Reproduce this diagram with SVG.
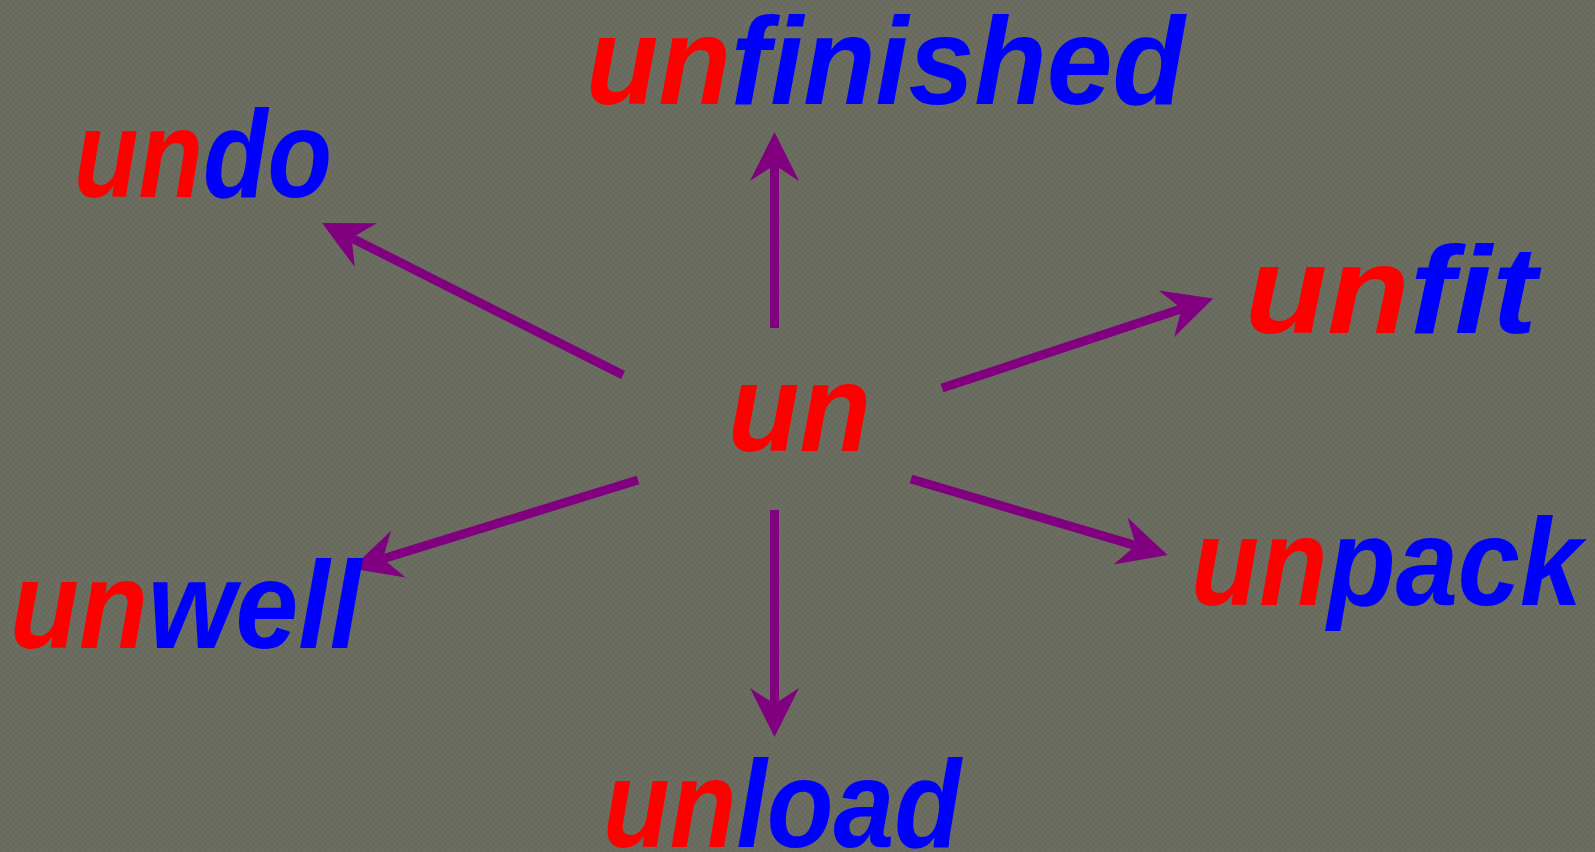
<svg xmlns="http://www.w3.org/2000/svg" width="1595" height="852" viewBox="0 0 1595 852">
  <style>
    .w { font-family: "Liberation Sans", Arial, sans-serif; font-weight: bold; font-style: italic; font-size: 124px; }
    .p { fill: #ff0000; }
    .s { fill: #0000ff; }
    .c { stroke: #800080; stroke-width: 9; fill: none; marker-end: url(#ah); }
  </style>
  <defs>
    <pattern id="bg" width="6" height="6" patternUnits="userSpaceOnUse">
      <rect width="6" height="6" fill="#676a5d"/>
      <rect x="0" y="0" width="3" height="3" fill="#6b6e61"/>
      <rect x="3" y="3" width="3" height="3" fill="#6b6e61"/>
    </pattern>
    <marker id="ah" markerUnits="userSpaceOnUse" orient="auto" refX="0" refY="0" markerWidth="60" markerHeight="60" viewBox="-20 -30 60 60" overflow="visible">
      <path d="M33,0 L-16,-24.5 L0,0 L-16,24.5 Z" fill="#800080"/>
    </marker>
  </defs>
  <rect width="1595" height="852" fill="url(#bg)"/>

  <g id="connectors">
    <line class="c" x1="774.5" y1="328" x2="774.5" y2="165"/>
    <line class="c" x1="774.5" y1="510" x2="774.5" y2="704"/>
    <line class="c" x1="623" y1="375" x2="351.5" y2="237.9"/>
    <line class="c" x1="638" y1="480" x2="383" y2="558.8"/>
    <line class="c" x1="942" y1="388" x2="1181.7" y2="308.8"/>
    <line class="c" x1="911" y1="479" x2="1135.9" y2="545.6"/>
  </g>

  <g id="center">
    <text class="w" x="728" y="451" textLength="143" lengthAdjust="spacingAndGlyphs"><tspan class="p">un</tspan></text>
  </g>
  <g id="unfinished">
    <text class="w" x="586" y="104" textLength="599" lengthAdjust="spacingAndGlyphs"><tspan class="p">un</tspan><tspan class="s">finished</tspan></text>
  </g>
  <g id="undo">
    <text class="w" x="74" y="197" textLength="258" lengthAdjust="spacingAndGlyphs"><tspan class="p">un</tspan><tspan class="s">do</tspan></text>
  </g>
  <g id="unfit">
    <text class="w" x="1245" y="333" textLength="292" lengthAdjust="spacingAndGlyphs"><tspan class="p">un</tspan><tspan class="s">fit</tspan></text>
  </g>
  <g id="unpack">
    <text class="w" x="1191" y="605" textLength="391" lengthAdjust="spacingAndGlyphs"><tspan class="p">un</tspan><tspan class="s">pack</tspan></text>
  </g>
  <g id="unwell">
    <text class="w" x="10" y="648" textLength="351" lengthAdjust="spacingAndGlyphs"><tspan class="p">un</tspan><tspan class="s">well</tspan></text>
  </g>
  <g id="unload">
    <text class="w" x="603" y="847" textLength="358" lengthAdjust="spacingAndGlyphs"><tspan class="p">un</tspan><tspan class="s">load</tspan></text>
  </g>
</svg>
